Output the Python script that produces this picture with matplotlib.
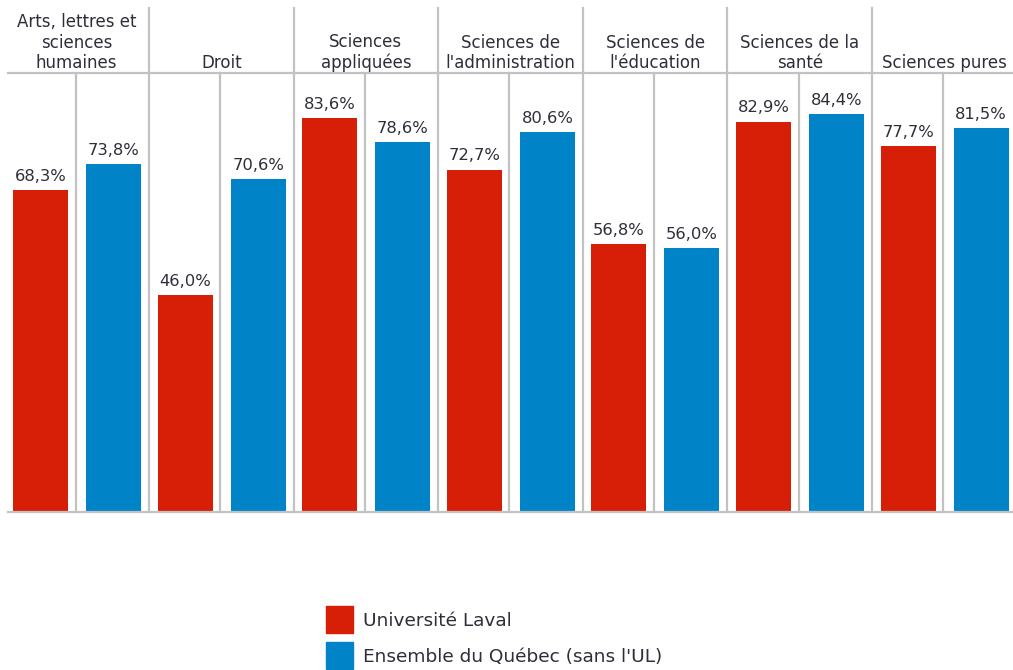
import matplotlib
matplotlib.use("Agg")
import matplotlib.pyplot as plt
import matplotlib.transforms as mtransforms
from matplotlib.patches import Rectangle

categories = ["Arts, lettres et\nsciences\nhumaines", "Droit", "Sciences\nappliquées",
              "Sciences de\nl'administration", "Sciences de\nl'éducation",
              "Sciences de la\nsanté", "Sciences pures"]
laval = [68.3, 46.0, 83.6, 72.7, 56.8, 82.9, 77.7]
quebec = [73.8, 70.6, 78.6, 80.6, 56.0, 84.4, 81.5]
series_names = ["Université Laval", "Ensemble du Québec (sans l'UL)"]

RED = "#D71F07"
BLUE = "#0084C8"
GRID = "#C2C2C2"
TXT = "#2E2E3A"

plt.rcParams['font.family'] = ['DejaVu Sans']

W, H = 1013, 670
fig = plt.figure(figsize=(W / 100, H / 100), dpi=100)
pw = 144.6
x0 = 4.4
x1 = x0 + 7 * pw
ytop, ybase = 73, 512
ax = fig.add_axes([x0 / W, 1 - ybase / H, (x1 - x0) / W, (ybase - ytop) / H])
ymax = (ybase - ytop) / 4.71
n = len(categories)
ax.set_xlim(0, n)
ax.set_ylim(0, ymax)
ax.axis('off')

xs = list(range(n))
bw = 0.38
b1 = ax.bar([i + 0.25 for i in xs], laval, width=bw, color=RED, zorder=3, label=series_names[0])
b2 = ax.bar([i + 0.755 for i in xs], quebec, width=bw, color=BLUE, zorder=3, label=series_names[1])

for bars, vals in ((b1, laval), (b2, quebec)):
    for r, v in zip(bars, vals):
        ax.annotate(f"{v:.1f}%".replace('.', ','), (r.get_x() + r.get_width() / 2, v),
                    xytext=(0, 4.5), textcoords='offset points', ha='center', va='bottom',
                    color=TXT, fontsize=11.8)

trans = mtransforms.blended_transform_factory(ax.transData, ax.transAxes)
head_top = 1 + (ytop - 8) / (ybase - ytop)
xl = (8 - x0) / pw
for i in range(1, n):
    ax.plot([i, i], [0, head_top], transform=trans, color=GRID, lw=1.6, clip_on=False, zorder=1)
for i in xs:
    ax.plot([i + 0.493, i + 0.493], [0, 1], transform=trans, color=GRID, lw=1.6, clip_on=False, zorder=1)
ax.plot([xl, n], [1, 1], transform=trans, color=GRID, lw=1.6, clip_on=False, zorder=1)
ax.plot([xl, n], [0, 0], transform=trans, color=GRID, lw=1.6, clip_on=False, zorder=4)

for i, c in enumerate(categories):
    ax.text(i + 0.5, 1.003, c, transform=trans, ha='center', va='bottom', fontsize=12,
            color=TXT, linespacing=1.15, multialignment='center')

# legend
leg_y = [606, 642]
for (yy, col, name) in zip(leg_y, [RED, BLUE], series_names):
    fig.patches.append(Rectangle((326 / W, 1 - (yy + 27) / H), 27 / W, 27 / H,
                                 transform=fig.transFigure, color=col))
    fig.text(363 / W, 1 - (yy + 15.5) / H, name, ha='left', va='center', fontsize=13.3,
             color=TXT)

fig.savefig("out.png", dpi=100)
